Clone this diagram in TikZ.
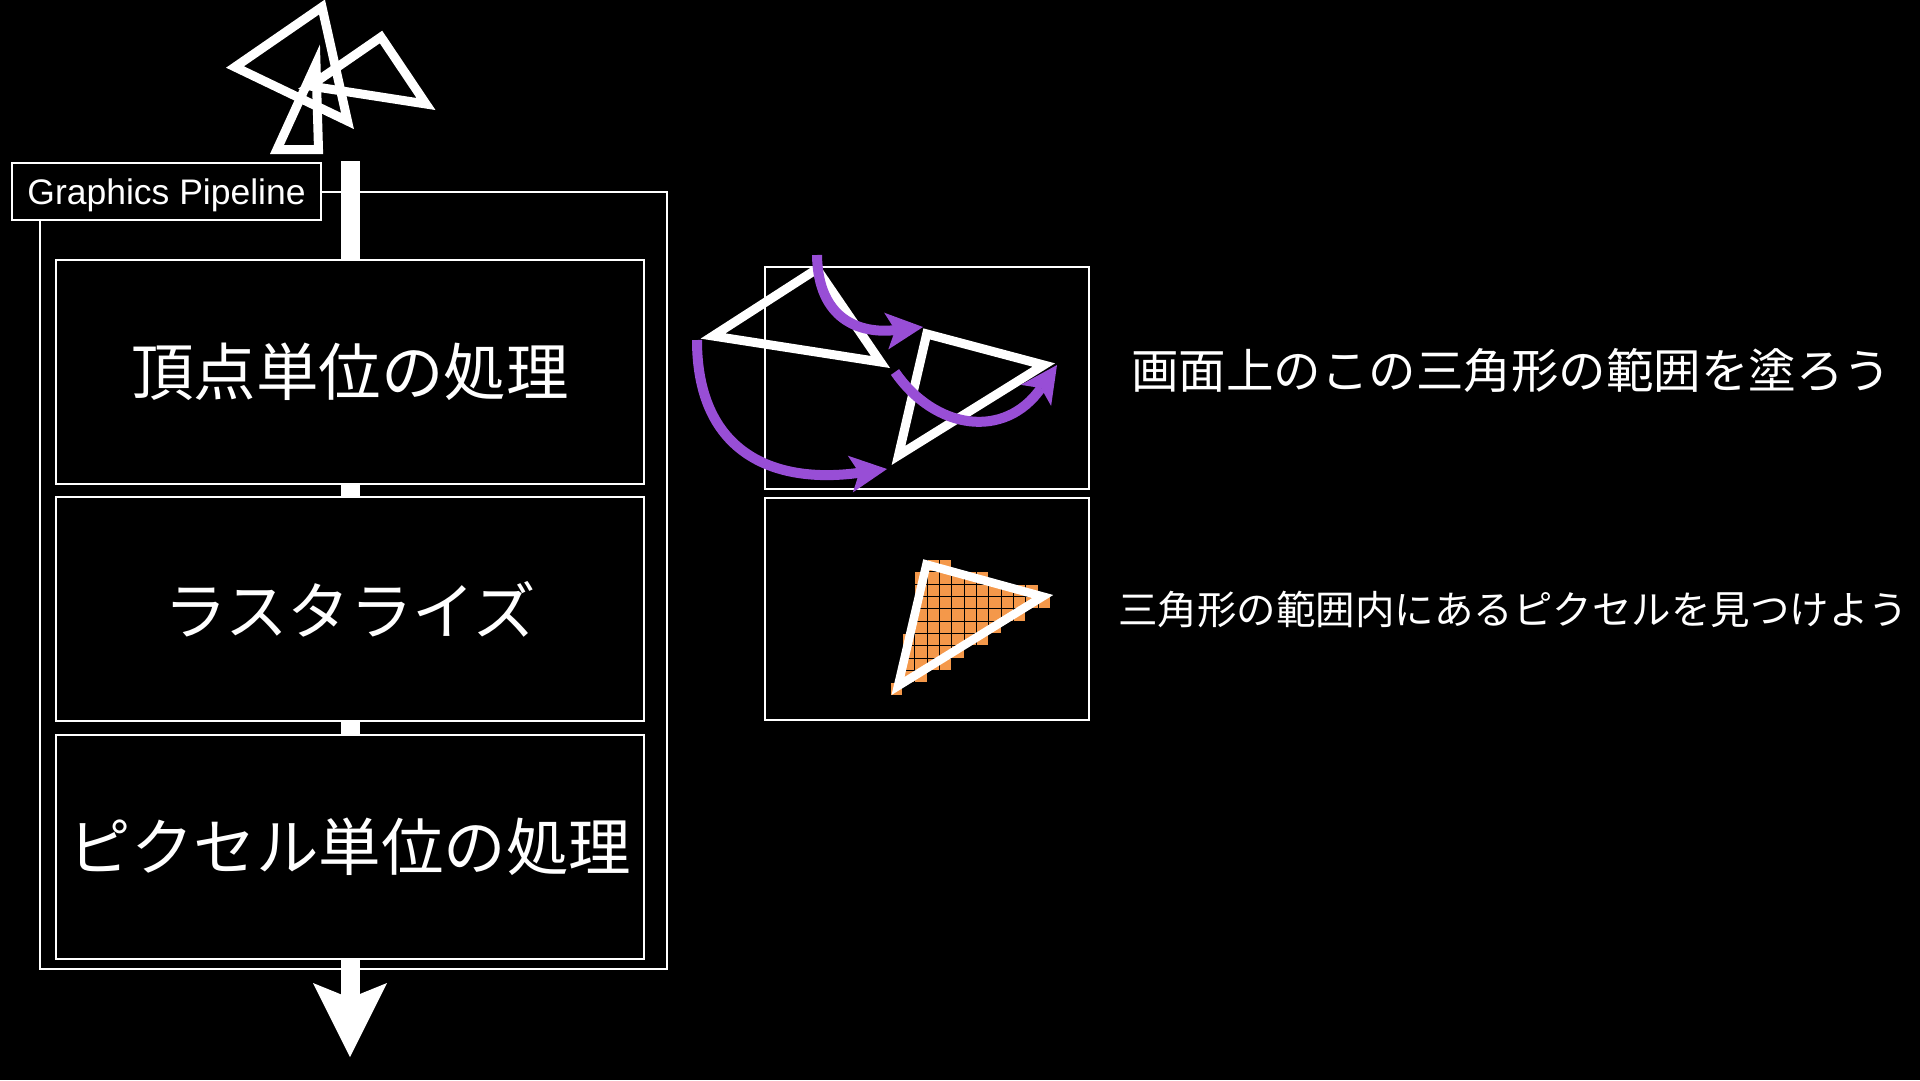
\documentclass[tikz,border=0pt]{standalone}
\usepackage{fontspec}
\setmainfont{Liberation Sans}
\newfontfamily\jp{Noto Sans CJK JP}
\usetikzlibrary{arrows.meta}
\definecolor{vio}{RGB}{152,78,214}
\definecolor{pix}{RGB}{244,152,74}
\begin{document}
\begin{tikzpicture}[x=1pt,y=-1pt,
  frame/.style={draw=white, line width=2pt},
  stage/.style={draw=white, line width=2pt, fill=black, minimum width=588pt, minimum height=224pt, inner sep=0pt, text=white, font=\jp\fontsize{62.5}{70}\selectfont},
  gpbox/.style={draw=white, line width=2pt, fill=black, minimum width=309pt, minimum height=57pt, inner sep=0pt, text=white, text height=28pt, text depth=3pt, font=\fontsize{35.5}{40}\selectfont},
  bar/.style={draw=white, line width=19pt},
  tri/.style={draw=white, line width=9pt, line join=miter},
  movearrow/.style={draw=vio, line width=10pt, -{Stealth[length=37pt,width=37pt,inset=9pt,line width=0pt]}},
  cell/.style={fill=pix, draw=black, line width=0.8pt},
  note/.style={text=white, anchor=west, inner sep=0pt}
]
\fill[black] (0,0) rectangle (1920,1080);
\useasboundingbox (0,0) rectangle (1920,1080);

% pipeline frame
\draw[frame] (40,192) rectangle (667,969);
\node[gpbox] (gp) at (166.5,191.5) {Graphics Pipeline};

% stages
\coordinate (barTop) at (350,161);
\coordinate (outEnd) at (350,1057);
\node[stage] (v) at (350,372) {頂点単位の処理};
\node[stage] (r) at (350,609) {ラスタライズ};
\node[stage] (p) at (350,847) {ピクセル単位の処理};
\draw[bar] (barTop) -- (v.north);
\draw[bar] (v.south) -- (r.north);
\draw[bar] (r.south) -- (p.north);
\draw[bar, -{Stealth[length=74pt,width=74pt,inset=15pt,line width=0pt]}] (p.south) -- (outEnd);

% input triangles on top
\draw[tri] (235,67) -- (322,7) -- (347.5,121) -- cycle;
\draw[tri] (381,37) -- (426,104) -- (310,86) -- cycle;
\draw[tri] (316,64) -- (318.5,149.5) -- (277,149.5) -- cycle;

% right boxes
\node[draw=white, line width=2pt, minimum width=324pt, minimum height=222pt, inner sep=0pt] (vb) at (927,378) {};
\node[draw=white, line width=2pt, minimum width=324pt, minimum height=222pt, inner sep=0pt] (rb) at (927,609) {};

% vertex transform
\coordinate (a1) at (713,336);
\coordinate (a2) at (817,269);
\coordinate (a3) at (880.5,362);
\coordinate (b1) at (926.7,333.9);
\coordinate (b2) at (1043.8,365);
\coordinate (b3) at (898.5,455.4);
\draw[tri] (a1) -- (a2) -- (a3) -- cycle;
\draw[tri] (b1) -- (b2) -- (b3) -- cycle;
\coordinate (m1s) at (817,255);
\coordinate (m1e) at (923,327);
\coordinate (m2s) at (697,340);
\coordinate (m2e) at (887,469);
\coordinate (m3s) at (895,372);
\coordinate (m3e) at (1057,365);
\draw[movearrow] (m1s) .. controls (818,320) and (860,334) .. (m1e);
\draw[movearrow] (m2s) .. controls (697,450) and (770,485) .. (m2e);
\draw[movearrow] (m3s) .. controls (935,430) and (1005,440) .. (m3e);

% rasterization
\foreach \j/\a/\b in {0/3/4,1/2/7,2/2/11,3/2/12,4/2/10,5/2/8,6/1/7,7/1/5,8/1/4,9/1/2,10/0/0}{
  \foreach \i in {\a,...,\b}{
    \draw[cell] ({890+\i*12.33},{559.3+\j*12.33}) rectangle +(12.33,12.33);
  }
}
\draw[draw=white, line width=8.5pt, line join=miter] (926.4,564.5) -- (1042.7,596.5) -- (898,686) -- cycle;

% notes
\node[note, font=\jp\fontsize{47.5}{52}\selectfont] (n1) at (1131,370) {画面上のこの三角形の範囲を塗ろう};
\node[note, font=\jp\fontsize{39.5}{44}\selectfont] (n2) at (1118,609) {三角形の範囲内にあるピクセルを見つけよう};
\end{tikzpicture}
\end{document}
